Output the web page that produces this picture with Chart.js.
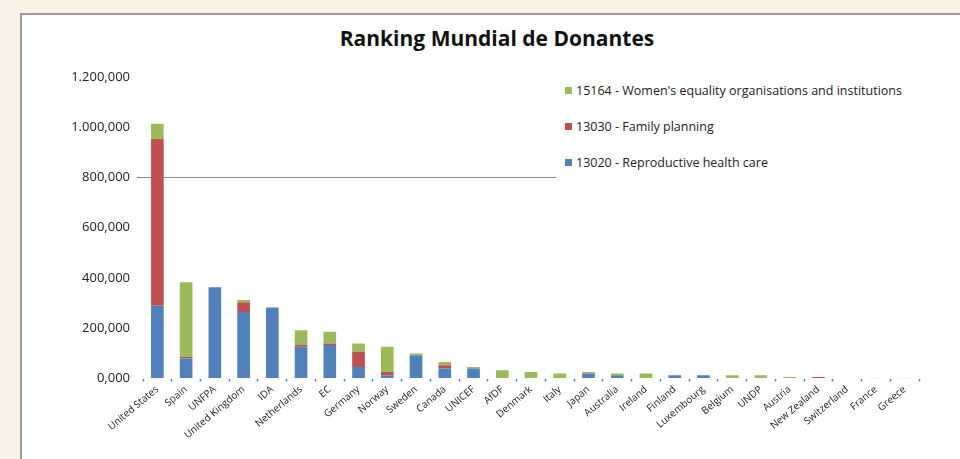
<!DOCTYPE html>
<html>
<head>
<meta charset="utf-8">
<script src="https://cdn.jsdelivr.net/npm/chart.js@4"></script>
<style>
  body { margin: 0; background: #fbf2e8; overflow: hidden; }
  #frame { position: absolute; left: 20px; top: 13px; width: 960px; height: 460px;
           background: #fff; border-left: 2px solid #9c9c9c; border-top: 2px solid #9c9c9c; }
  #wrap { position: absolute; left: 0; top: 0; width: 960px; height: 459px; }
  #title { position: absolute; left: 0; top: 25px; width: 994px; height: 26px; line-height: 26px; text-align: center;
           font-family: 'Open Sans', sans-serif; font-size: 21px; font-weight: bold; color: #111; }
  #legend { position: absolute; left: 556px; top: 72px; width: 363px; height: 108px; background: #fff;
            font-family: 'Open Sans', sans-serif; font-size: 12.5px; color: #222; white-space: nowrap; }
  .item { height: 36px; display: flex; align-items: center; }
  .box { width: 7px; height: 7px; margin: 0 4px 0 9px; }
</style>
</head>
<body>
<div id="frame"></div>
<div id="title">Ranking Mundial de Donantes</div>
<div id="wrap"><canvas id="barChart" width="960" height="459"></canvas></div>
<div id="legend"></div>
<script>
// países / donantes (eje x)
const labels = ['United States', 'Spain', 'UNFPA', 'United Kingdom', 'IDA', 'Netherlands', 'EC', 'Germany',
  'Norway', 'Sweden', 'Canada', 'UNICEF', 'AfDF', 'Denmark', 'Italy', 'Japan', 'Australia', 'Ireland',
  'Finland', 'Luxembourg', 'Belgium', 'UNDP', 'Austria', 'New Zealand', 'Switzerland', 'France', 'Greece'];

// valores
const reproductive = [290000, 80000, 363000, 265000, 283000, 126000, 133000, 46000, 13000, 93000, 40000, 40000,
  0, 0, 0, 20000, 13000, 0, 13000, 13000, 0, 0, 0, 0, 0, 0, 0];
const family = [664000, 6000, 0, 38000, 0, 7000, 6000, 60000, 13000, 0, 13000, 0,
  0, 0, 0, 0, 0, 0, 0, 0, 0, 0, 0, 6000, 0, 0, 0];
const women = [60000, 297000, 0, 9000, 0, 59000, 47000, 33000, 100000, 7000, 13000, 6000,
  33000, 26000, 20000, 6000, 7000, 20000, 0, 0, 13000, 13000, 6000, 0, 1500, 1000, 500];

const seriesNames = ['13020 - Reproductive health care', '13030 - Family planning',
  '15164 - Women\'s equality organisations and institutions'];

// eje y
const yTicks = [0, 200000, 400000, 600000, 800000, 1000000, 1200000];

// formato "1.200,000"
function fmt(v) {
  const k = Math.round(v / 1000);
  const s = String(k).replace(/\B(?=(\d{3})+(?!\d))/g, '.');
  return s + ',000';
}

const font = 'Open Sans';
const ctx = document.getElementById('barChart');
const barChart = new Chart(ctx, {
  type: 'bar',
  data: {
    labels: labels,
    datasets: [
      { label: seriesNames[0], data: reproductive, backgroundColor: '#4f81bd' },
      { label: seriesNames[1], data: family, backgroundColor: '#c0504d' },
      { label: seriesNames[2], data: women, backgroundColor: '#9bbb59' }
    ]
  },
  options: {
    responsive: false,
    animation: false,
    layout: { padding: { left: 55, right: 41, top: 77, bottom: 0 } },
    datasets: { bar: { categoryPercentage: 1, barPercentage: 0.44 } },
    plugins: {
      legend: { display: false },
      tooltip: { enabled: false }
    },
    scales: {
      x: {
        stacked: true,
        border: { display: false },
        grid: { drawOnChartArea: false, tickLength: 3, tickColor: '#4f81bd', tickWidth: 1.5 },
        ticks: { minRotation: 40, maxRotation: 40, autoSkip: false, padding: 2, color: '#222',
                 font: { family: font, size: 10 } },
        afterFit: (s) => { s.height = 80.5; }
      },
      y: {
        stacked: true,
        min: 0,
        max: yTicks[yTicks.length - 1],
        border: { display: false },
        afterBuildTicks: (s) => { s.ticks = yTicks.map(v => ({ value: v })); },
        grid: {
          color: (c) => c.tick && c.tick.value === 800000 ? '#8c8c8c' : 'transparent',
          tickColor: (c) => c.tick && c.tick.value === 800000 ? '#8c8c8c' : 'transparent',
          tickLength: 6
        },
        ticks: { padding: 7, color: '#222', font: { family: font, size: 13 }, callback: (v) => fmt(v) },
        afterFit: (s) => { s.width = 88; }
      }
    }
  }
});

// leyenda en HTML (orden invertido, como el original)
const legendEl = document.getElementById('legend');
barChart.data.datasets.slice().reverse().forEach(ds => {
  const row = document.createElement('div');
  row.className = 'item';
  const sq = document.createElement('span');
  sq.className = 'box';
  sq.style.background = ds.backgroundColor;
  row.appendChild(sq);
  row.appendChild(document.createTextNode(ds.label));
  legendEl.appendChild(row);
});
</script>
</body>
</html>
